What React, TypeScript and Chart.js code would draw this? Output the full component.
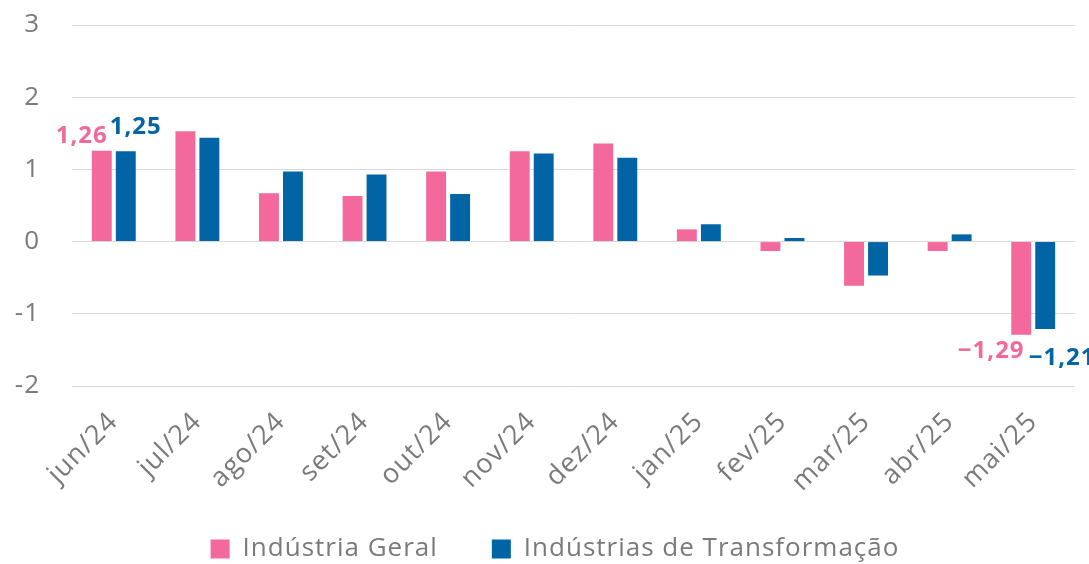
import React, { useEffect, useRef } from "react";
import { Chart, registerables } from "chart.js";

Chart.register(...registerables);

const categories = ["jun/24", "jul/24", "ago/24", "set/24", "out/24", "nov/24", "dez/24", "jan/25", "fev/25", "mar/25", "abr/25", "mai/25"];
const industriaGeral = [1.26, 1.53, 0.67, 0.63, 0.97, 1.25, 1.36, 0.17, -0.13, -0.61, -0.13, -1.29];
const industriasTransformacao = [1.25, 1.44, 0.97, 0.93, 0.66, 1.22, 1.16, 0.24, 0.05, -0.47, 0.1, -1.21];
const seriesNames = ["Indústria Geral", "Indústrias de Transformação"];
const yTicks = [-2, -1, 0, 1, 2, 3];
const labeledIndices = [0, 11];

const PINK = "#F4699B";
const BLUE = "#0064A5";
const GRAY = "#7a7a7a";
const FONT = "'Open Sans', sans-serif";

// label offsets per [dataset][labeled index]: dx from bar center, dy from bar end (text center)
const labelOffsets = [
  [[-20, -14], [-30, 16]],
  [[10, -24], [17, 29]],
];

const fmt = (v: number) => (v < 0 ? "\u2212" : "") + Math.abs(v).toFixed(2).replace(".", ",");

const spacingPlugin = {
  id: "spacing",
  afterInit(chart: any) { chart.ctx.letterSpacing = "1px"; },
  beforeLayout(chart: any) { chart.ctx.letterSpacing = "1px"; },
  afterLayout(chart: any) {
    if (chart.legend) chart.legend.left = 35;
    if (chart.scales.x) chart.scales.x.bottom = chart.height;
  },
  beforeDraw(chart: any) { chart.ctx.letterSpacing = "1px"; },
};

const labelPlugin = {
  id: "barLabels",
  afterDatasetsDraw(chart: any) {
    const ctx = chart.ctx;
    ctx.save();
    ctx.font = `bold 24px ${FONT}`;
    ctx.textAlign = "center";
    ctx.textBaseline = "middle";
    chart.data.datasets.forEach((ds: any, di: number) => {
      const meta = chart.getDatasetMeta(di);
      labeledIndices.forEach((idx, k) => {
        const bar = meta.data[idx];
        const v = ds.data[idx];
        const [dx, dy] = labelOffsets[di][k];
        ctx.fillStyle = ds.backgroundColor;
        ctx.fillText(fmt(v), bar.x + dx, bar.y + dy);
      });
    });
    ctx.restore();
  },
};

export default function App() {
  const ref = useRef<HTMLCanvasElement>(null);
  useEffect(() => {
    document.body.style.margin = "0";
    const chart = new Chart(ref.current!, {
      type: "bar",
      data: {
        labels: categories,
        datasets: [
          { label: seriesNames[0], data: industriaGeral, backgroundColor: PINK, categoryPercentage: 0.574, barPercentage: 0.83 },
          { label: seriesNames[1], data: industriasTransformacao, backgroundColor: BLUE, categoryPercentage: 0.574, barPercentage: 0.83 },
        ],
      },
      options: {
        animation: false,
        responsive: false,
        layout: { padding: { top: 0, right: 14, left: 0, bottom: -8 } },
        plugins: {
          tooltip: { enabled: false },
          legend: {
            position: "bottom",
            labels: {
              font: { family: FONT, size: 26 },
              color: GRAY,
              boxWidth: 19,
              boxHeight: 19,
              padding: 54,
            },
          },
        },
        scales: {
          x: {
            grid: { display: false, drawTicks: false },
            border: { display: false },
            ticks: {
              font: { family: FONT, size: 27 },
              color: GRAY,
              maxRotation: 45,
              minRotation: 45,
              padding: 20,
            },
            afterFit: (s: any) => { s.height = 96; },
          },
          y: {
            min: -2,
            max: 3,
            afterBuildTicks: (s: any) => { s.ticks = yTicks.map((v) => ({ value: v })); },
            grid: { color: "#d9d9d9", lineWidth: 1, drawTicks: false },
            border: { display: false },
            ticks: {
              font: { family: FONT, size: 26 },
              color: GRAY,
              padding: 32,
              callback: (v: any) => (Number(v) < 0 ? "-" + Math.abs(Number(v)) : String(v)),
            },
            afterFit: (s: any) => { s.width = 72; s.paddingTop = 25; s.paddingBottom = 16; },
          },
        },
      },
      plugins: [spacingPlugin, labelPlugin],
    });
    return () => chart.destroy();
  }, []);
  return (
    <div style={{ width: 1089, height: 564 }}>
      <canvas ref={ref} width={1089} height={564} style={{ display: "block" }} />
    </div>
  );
}
